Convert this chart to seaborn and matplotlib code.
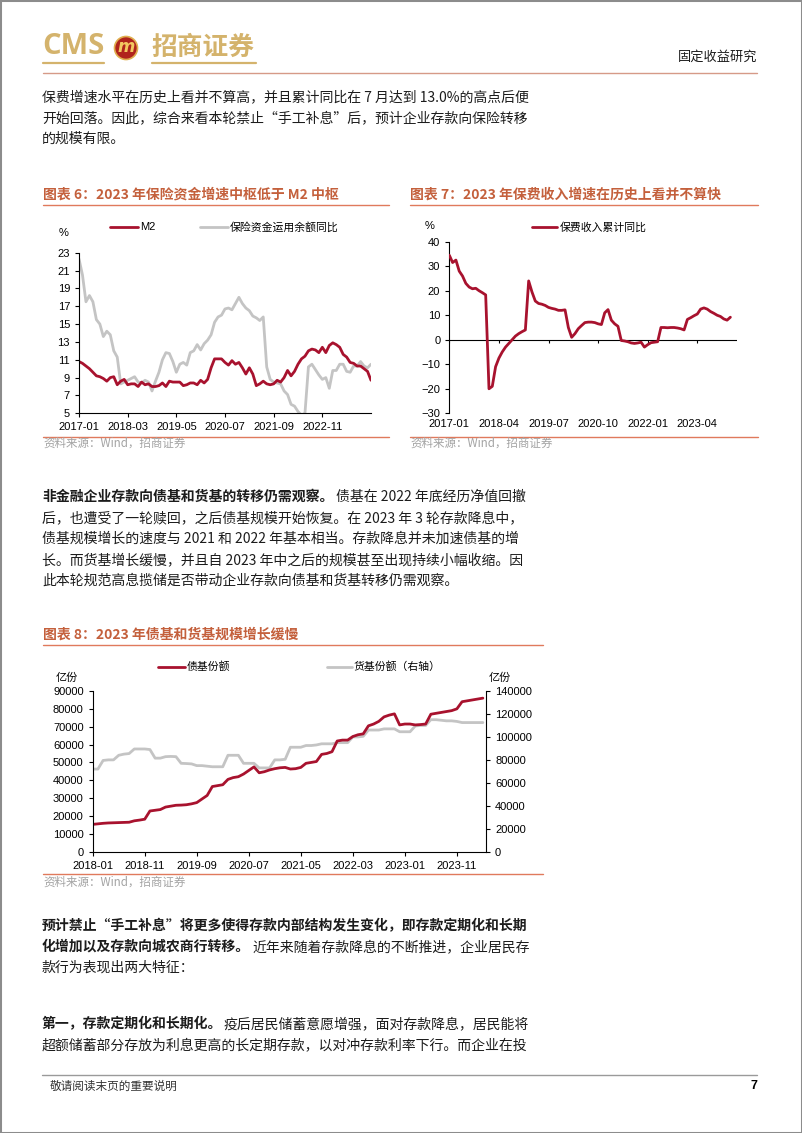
import numpy as np
import pandas as pd
import seaborn as sns
import matplotlib
matplotlib.use("Agg")
from matplotlib import pyplot as plt
from matplotlib.lines import Line2D
from matplotlib.patches import Ellipse, Rectangle

# ---------------- data ----------------
# chart 6: M2 yoy vs insurance fund balance yoy, monthly 2017-01 .. 2024-01
m2_yoy = [10.8, 10.6, 10.3, 10.0, 9.6, 9.2, 9.1, 8.9, 8.6, 9.0, 9.1, 8.2,
          8.6, 8.8, 8.2, 8.3, 8.3, 8.0, 8.5, 8.2, 8.3, 8.0, 8.0, 8.1,
          8.4, 8.0, 8.6, 8.5, 8.5, 8.5, 8.1, 8.2, 8.4, 8.4, 8.2, 8.7,
          8.4, 8.8, 10.1, 11.1, 11.1, 11.1, 10.7, 10.4, 10.9, 10.5, 10.7, 10.1,
          9.4, 10.1, 9.4, 8.1, 8.3, 8.6, 8.3, 8.2, 8.3, 8.7, 8.5, 9.0,
          9.8, 9.2, 9.7, 10.5, 11.1, 11.4, 12.0, 12.2, 12.1, 11.8, 12.4, 11.8,
          12.6, 12.9, 12.7, 12.4, 11.6, 11.3, 10.7, 10.6, 10.3, 10.3, 10.0, 9.7,
          8.7]
ins_fund_yoy = [22.3, 20.5, 17.5, 18.2, 17.5, 15.5, 15.0, 13.6, 14.2, 13.8, 12.0, 11.3,
                8.3, 8.5, 8.7, 8.9, 9.1, 8.5, 8.4, 8.7, 8.5, 7.5, 8.6, 9.6,
                11.0, 11.8, 11.7, 10.8, 9.6, 10.5, 10.7, 10.4, 11.8, 12.0, 12.7, 12.1,
                12.8, 13.2, 13.8, 15.2, 15.8, 16.0, 16.7, 16.8, 16.6, 17.3, 18.0, 17.3,
                16.8, 16.5, 15.9, 15.7, 15.4, 15.8, 10.2, 8.8, 8.5, 8.4, 8.3, 7.5,
                7.1, 6.0, 5.8, 5.2, 4.8, 5.0, 10.2, 10.5, 9.9, 9.3, 8.8, 9.0,
                7.8, 9.8, 9.8, 10.5, 10.5, 9.7, 9.6, 10.3, 10.3, 10.8, 10.3, 10.1,
                10.5]
months6 = pd.date_range("2017-01", periods=len(m2_yoy), freq="MS").strftime("%Y-%m")
ticks6 = ["2017-01", "2018-03", "2019-05", "2020-07", "2021-09", "2022-11"]

# chart 7: premium income cumulative yoy, 2017-01 .. 2024-02
premium_yoy = [34.5, 31.5, 32.5, 28.0, 26.0, 23.0, 21.5, 20.8, 21.0, 20.0, 19.2, 18.3,
               -20.0, -19.0, -11.0, -7.5, -5.0, -3.0, -1.5, 0.0, 1.5, 2.5, 3.3, 4.0,
               24.0, 19.5, 15.8, 14.8, 14.5, 14.0, 13.2, 12.8, 12.5, 12.0, 12.0, 12.2,
               5.0, 1.0, 2.5, 4.5, 5.8, 7.0, 7.2, 7.2, 7.0, 6.5, 6.2, 11.0,
               12.3, 8.0, 6.5, 5.5, -0.3, -0.5, -0.8, -1.3, -1.5, -1.3, -1.0, -3.0,
               -2.0, -1.2, -1.0, -0.8, 5.0, 5.0, 4.9, 5.0, 5.0, 4.8, 4.5, 4.0,
               8.3, 9.0, 9.8, 10.5, 12.5, 13.0, 12.5, 11.5, 10.8, 10.0, 9.5, 8.5,
               8.0, 9.2]
months7 = pd.date_range("2017-01", periods=len(premium_yoy), freq="MS").strftime("%Y-%m")
ticks7 = ["2017-01", "2018-04", "2019-07", "2020-10", "2022-01", "2023-04"]

# chart 8: bond fund and money fund shares (100m), 2018-01 .. 2024-04
bond_fund = [15300, 15600, 15900, 16100, 16200, 16300, 16400, 16500, 17300, 17700, 18200, 22800,
             23200, 23600, 25000, 25500, 26000, 26100, 26300, 26800, 27500, 29500, 31500, 36500,
             37000, 37500, 40500, 41500, 42000, 43500, 45500, 47500, 44200, 44800, 45800, 46500,
             47000, 47200, 46300, 46500, 47200, 49500, 50000, 50500, 54500, 55000, 56000, 62000,
             62500, 62500, 64500, 65500, 66000, 70500, 71500, 73000, 75500, 76500, 77200, 71000,
             71500, 71500, 71000, 71200, 71500, 77000, 77500, 78000, 78500, 79000, 80000, 84000,
             84500, 85000, 85500, 86000]
money_fund = [72000, 72000, 79500, 80000, 80000, 84000, 85000, 85500, 89500, 89500, 89500, 89000,
              81500, 81500, 82800, 83000, 82800, 77000, 76800, 76500, 75000, 75000, 74500, 74000,
              74000, 74000, 84000, 84000, 84000, 77000, 77000, 77000, 73000, 73000, 73000, 80000,
              80000, 80500, 91000, 91000, 91000, 92500, 92500, 93000, 94000, 94000, 94000, 95000,
              95000, 95000, 100000, 100000, 100500, 106000, 106000, 106000, 107000, 107000, 107000, 104500,
              104500, 104500, 109500, 110000, 110000, 115000, 115000, 114500, 114000, 114000, 113500, 112500,
              112500, 112500, 112500, 112500]
months8 = pd.date_range("2018-01", periods=len(bond_fund), freq="MS").strftime("%Y-%m")
ticks8 = ["2018-01", "2018-11", "2019-09", "2020-07", "2021-05", "2022-03", "2023-01", "2023-11"]

# ---------------- style ----------------
sns.set_style("ticks")
plt.rcParams["font.family"] = ["Liberation Sans", "Noto Sans CJK SC"]
CJK = ["Noto Sans CJK SC", "DejaVu Sans"]
RED = "#a8122e"
GRAY = "#c4c4c4"
TITLE_C = "#c4603c"
RULE_C = "#e07a5c"
GOLD = "#d4b36c"
INK = "#1c1c1c"
BODY_FS = 10.0
EM = 14.0

W, H = 802, 1133
fig = plt.figure(figsize=(W / 100, H / 100), dpi=100)


def fx(x):
    return x / W


def fy(y):
    return 1 - y / H


def put(x, y, s, **kw):
    kw.setdefault("va", "center")
    return fig.text(fx(x), fy(y), s, **kw)


def hline(x1, x2, y, color, lw):
    fig.add_artist(Line2D([fx(x1), fx(x2)], [fy(y), fy(y)], color=color, lw=lw))


def add_ax(l, t, r, b):
    return fig.add_axes([fx(l), fy(b), (r - l) / W, (b - t) / H])


def para_line(x, y, bold, normal=""):
    if bold:
        put(x, y, bold, fontsize=BODY_FS, fontweight="bold", family=CJK, color=INK)
    if normal:
        put(x + EM * len(bold), y, normal, fontsize=BODY_FS, family=CJK, color=INK)


def style_ax(ax):
    for side in ["left", "bottom", "right"]:
        ax.spines[side].set_color("black")
        ax.spines[side].set_linewidth(0.8)
    ax.tick_params(labelsize=8, length=3, width=0.8, direction="out", colors="black")
    ax.set_xlabel("")
    ax.set_ylabel("")


# ---------------- page header ----------------
fig.add_artist(Rectangle((0, 0), 1, 1, transform=fig.transFigure, fill=False,
                         ec="#8c8c8c", lw=2.2))
put(42, 47, "CMS", fontsize=21, fontweight="bold", family="Open Sans", color=GOLD)
fig.add_artist(Ellipse((fx(126), fy(48)), 23 / W, 23 / H, transform=fig.transFigure,
                       fc="#b0241c", ec="#e0b050", lw=1.2))
put(126, 47, "m", fontsize=12, fontweight="bold", style="italic", family="DejaVu Sans",
    color="#f2c860", ha="center")
put(151, 47, "招商证券", fontsize=18.5, fontweight="bold", family=CJK, color=GOLD)
hline(43, 104, 63, GOLD, 1.6)
hline(152, 256, 63, GOLD, 1.6)
put(757, 57, "固定收益研究", fontsize=9.5, family=CJK, color=INK, ha="right")
hline(43, 757, 72.5, "#d69a88", 1.0)

# ---------------- paragraph 1 ----------------
para_line(42, 97, "", "保费增速水平在历史上看并不算高，并且累计同比在 7 月达到 13.0%的高点后便")
para_line(42, 118, "", "开始回落。因此，综合来看本轮禁止“手工补息”后，预计企业存款向保险转移")
para_line(42, 139, "", "的规模有限。")

# ---------------- chart 6 ----------------
put(43, 195, "图表 6：2023 年保险资金增速中枢低于 M2 中枢", fontsize=10, fontweight="bold",
    family=CJK, color=TITLE_C)
hline(43, 389, 204.5, RULE_C, 1.0)

df6 = pd.DataFrame({"idx": np.arange(len(m2_yoy)), "M2": m2_yoy, "ins": ins_fund_yoy})
ax6 = add_ax(79, 252.7, 371, 413.3)
sns.lineplot(data=df6, x="idx", y="ins", ax=ax6, color=GRAY, lw=2.0)
sns.lineplot(data=df6, x="idx", y="M2", ax=ax6, color=RED, lw=2.0)
ax6.set_xlim(0, len(m2_yoy) - 1)
ax6.set_ylim(5, 23)
ax6.set_yticks(range(5, 24, 2))
ax6.set_xticks([list(months6).index(t) for t in ticks6])
ax6.set_xticklabels(ticks6)
sns.despine(ax=ax6)
style_ax(ax6)

put(64, 233, "%", fontsize=8, color="black", ha="center")
hline(110, 138, 227, RED, 2.0)
put(140, 227, "M2", fontsize=8, color="black")
hline(200, 228, 227, GRAY, 2.0)
put(230, 227, "保险资金运用余额同比", fontsize=7.8, family=CJK, color="black")

hline(43, 389, 436.5, RULE_C, 1.0)
put(43, 443.5, "资料来源：Wind，招商证券", fontsize=8.3, family=CJK, color="#a3a3a3")

# ---------------- chart 7 ----------------
put(410, 195, "图表 7：2023 年保费收入增速在历史上看并不算快", fontsize=10, fontweight="bold",
    family=CJK, color=TITLE_C)
hline(410, 758, 204.5, RULE_C, 1.0)

df7 = pd.DataFrame({"idx": np.arange(len(premium_yoy)), "prem": premium_yoy})
ax7 = add_ax(449.3, 241.7, 737, 413.3)
sns.lineplot(data=df7, x="idx", y="prem", ax=ax7, color=RED, lw=2.0, zorder=3)
ax7.set_xlim(0, 87)
ax7.set_ylim(-30, 40)
ax7.set_yticks(range(-30, 41, 10))
pos7 = [list(months7).index(t) for t in ticks7]
ax7.set_xticks(pos7)
ax7.set_xticklabels(ticks7)
sns.despine(ax=ax7, bottom=True)
style_ax(ax7)
ax7.tick_params(axis="x", length=0, pad=4)
ax7.axhline(0, color="black", lw=0.8, zorder=2)
ax7.vlines(pos7, -1.3, 0, color="black", lw=0.8)

put(430, 226, "%", fontsize=8, color="black", ha="center")
hline(532, 557, 227, RED, 2.0)
put(560, 227, "保费收入累计同比", fontsize=7.8, family=CJK, color="black")

hline(410, 758, 436.5, RULE_C, 1.0)
put(410, 443.5, "资料来源：Wind，招商证券", fontsize=8.3, family=CJK, color="#a3a3a3")

# ---------------- paragraph 2 ----------------
para_line(42, 497, "非金融企业存款向债基和货基的转移仍需观察。", "债基在 2022 年底经历净值回撤")
para_line(42, 518, "", "后，也遭受了一轮赎回，之后债基规模开始恢复。在 2023 年 3 轮存款降息中，")
para_line(42, 539, "", "债基规模增长的速度与 2021 和 2022 年基本相当。存款降息并未加速债基的增")
para_line(42, 560, "", "长。而货基增长缓慢，并且自 2023 年中之后的规模甚至出现持续小幅收缩。因")
para_line(42, 581, "", "此本轮规范高息揽储是否带动企业存款向债基和货基转移仍需观察。")

# ---------------- chart 8 ----------------
put(43, 635, "图表 8：2023 年债基和货基规模增长缓慢", fontsize=10, fontweight="bold",
    family=CJK, color=TITLE_C)
hline(43, 543, 644.5, RULE_C, 1.0)

df8 = pd.DataFrame({"idx": np.arange(len(bond_fund)), "bond": bond_fund, "money": money_fund})
ax8 = add_ax(92.7, 691, 486, 851.7)
ax8r = ax8.twinx()
sns.lineplot(data=df8, x="idx", y="money", ax=ax8r, color=GRAY, lw=2.0)
sns.lineplot(data=df8, x="idx", y="bond", ax=ax8, color=RED, lw=2.0)
ax8.set_zorder(ax8r.get_zorder() + 1)
ax8.patch.set_visible(False)
ax8.set_xlim(0, len(bond_fund) - 0.4)
ax8.set_ylim(0, 90000)
ax8r.set_ylim(0, 140000)
ax8.set_yticks(range(0, 90001, 10000))
ax8.set_yticklabels([str(v) for v in range(0, 90001, 10000)])
ax8r.set_yticks(range(0, 140001, 20000))
ax8r.set_yticklabels([str(v) for v in range(0, 140001, 20000)])
ax8.set_xticks([list(months8).index(t) for t in ticks8])
ax8.set_xticklabels(ticks8)
for a in (ax8, ax8r):
    a.spines["top"].set_visible(False)
    style_ax(a)
ax8.spines["right"].set_visible(False)
ax8r.spines["left"].set_visible(False)
ax8r.spines["bottom"].set_visible(False)

put(67, 678, "亿份", fontsize=8, family=CJK, color="black", ha="center")
put(500, 678, "亿份", fontsize=8, family=CJK, color="black", ha="center")
hline(158, 185, 667, RED, 2.0)
put(187, 667, "债基份额", fontsize=7.8, family=CJK, color="black")
hline(327, 352, 667, GRAY, 2.0)
put(354, 667, "货基份额（右轴）", fontsize=7.8, family=CJK, color="black")

hline(43, 543, 873.5, RULE_C, 1.0)
put(43, 882, "资料来源：Wind，招商证券", fontsize=8.3, family=CJK, color="#a3a3a3")

# ---------------- paragraphs 3 and 4 ----------------
para_line(42, 926, "预计禁止“手工补息”将更多使得存款内部结构发生变化，即存款定期化和长期")
para_line(42, 947, "化增加以及存款向城农商行转移。", "近年来随着存款降息的不断推进，企业居民存")
para_line(42, 968, "", "款行为表现出两大特征：")
para_line(42, 1024, "第一，存款定期化和长期化。", "疫后居民储蓄意愿增强，面对存款降息，居民能将")
para_line(42, 1045, "", "超额储蓄部分存放为利息更高的长定期存款，以对冲存款利率下行。而企业在投")

# ---------------- footer ----------------
hline(42, 757, 1075, "#9a9a9a", 1.0)
put(50, 1086, "敬请阅读末页的重要说明", fontsize=8.4, family=CJK, color="#333333")
put(757, 1086, "7", fontsize=9, fontweight="bold", color="black", ha="right")

fig.savefig("out.png", dpi=100)
